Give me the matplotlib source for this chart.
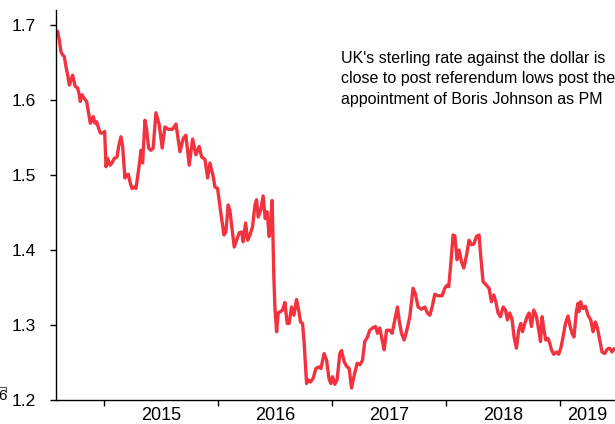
import matplotlib
matplotlib.use("Agg")
import matplotlib.pyplot as plt
from matplotlib.lines import Line2D

plt.rcParams["font.family"] = ["Liberation Sans", "DejaVu Sans"]

# GBP/USD, weekly closes (time as decimal years)
t_year = [
    2014.594, 2014.608, 2014.623, 2014.638, 2014.652, 2014.667, 2014.682, 2014.696, 2014.711, 2014.725,
    2014.739, 2014.748, 2014.769, 2014.783, 2014.792, 2014.807, 2014.827, 2014.848, 2014.866, 2014.880,
    2014.895, 2014.906, 2014.921, 2014.936, 2014.954, 2014.968, 2014.989, 2015.006, 2015.018, 2015.032,
    2015.053, 2015.070, 2015.090, 2015.114, 2015.129, 2015.149, 2015.164, 2015.184, 2015.199, 2015.213,
    2015.228, 2015.246, 2015.266, 2015.281, 2015.304, 2015.325, 2015.339, 2015.360, 2015.375, 2015.392,
    2015.412, 2015.432, 2015.456, 2015.485, 2015.511, 2015.535, 2015.564, 2015.603, 2015.632, 2015.667,
    2015.696, 2015.719, 2015.748, 2015.778, 2015.807, 2015.836, 2015.857, 2015.886, 2015.910, 2015.930,
    2015.959, 2015.974, 2015.997, 2016.026, 2016.053, 2016.070, 2016.090, 2016.105, 2016.143, 2016.164,
    2016.187, 2016.208, 2016.222, 2016.243, 2016.261, 2016.281, 2016.304, 2016.325, 2016.339, 2016.354,
    2016.375, 2016.397, 2016.415, 2016.432, 2016.450, 2016.465, 2016.476, 2016.491, 2016.500, 2016.515,
    2016.529, 2016.550, 2016.568, 2016.588, 2016.608, 2016.625, 2016.646, 2016.667, 2016.690, 2016.711,
    2016.725, 2016.743, 2016.757, 2016.778, 2016.792, 2016.813, 2016.836, 2016.860, 2016.886, 2016.904,
    2016.932, 2016.954, 2016.974, 2016.991, 2017.006, 2017.026, 2017.046, 2017.070, 2017.085, 2017.108,
    2017.129, 2017.152, 2017.173, 2017.196, 2017.222, 2017.246, 2017.269, 2017.289, 2017.313, 2017.333,
    2017.357, 2017.383, 2017.401, 2017.421, 2017.441, 2017.459, 2017.480, 2017.509, 2017.529, 2017.553,
    2017.576, 2017.590, 2017.611, 2017.634, 2017.655, 2017.684, 2017.713, 2017.734, 2017.757, 2017.787,
    2017.816, 2017.839, 2017.860, 2017.880, 2017.904, 2017.932, 2017.968, 2017.991, 2018.011, 2018.026,
    2018.044, 2018.064, 2018.079, 2018.099, 2018.117, 2018.138, 2018.158, 2018.182, 2018.204, 2018.225,
    2018.246, 2018.269, 2018.292, 2018.307, 2018.327, 2018.357, 2018.380, 2018.401, 2018.421, 2018.439,
    2018.459, 2018.480, 2018.503, 2018.524, 2018.541, 2018.561, 2018.582, 2018.599, 2018.620, 2018.640,
    2018.658, 2018.673, 2018.693, 2018.713, 2018.731, 2018.752, 2018.772, 2018.796, 2018.816, 2018.831,
    2018.845, 2018.862, 2018.877, 2018.897, 2018.912, 2018.927, 2018.947, 2018.971, 2018.991, 2019.009,
    2019.029, 2019.050, 2019.073, 2019.088, 2019.108, 2019.125, 2019.146, 2019.161, 2019.169, 2019.184,
    2019.204, 2019.225, 2019.248, 2019.272, 2019.292, 2019.313, 2019.331, 2019.351, 2019.371, 2019.395,
    2019.418, 2019.439, 2019.459, 2019.476,
]
gbp_usd = [
    1.691, 1.680, 1.664, 1.660, 1.658, 1.644, 1.633, 1.620, 1.627, 1.633,
    1.624, 1.618, 1.616, 1.607, 1.598, 1.607, 1.602, 1.598, 1.582, 1.569,
    1.573, 1.578, 1.569, 1.571, 1.562, 1.556, 1.556, 1.558, 1.511, 1.522,
    1.513, 1.516, 1.522, 1.524, 1.538, 1.551, 1.538, 1.496, 1.500, 1.501,
    1.491, 1.482, 1.484, 1.482, 1.507, 1.533, 1.516, 1.573, 1.560, 1.536,
    1.533, 1.536, 1.583, 1.567, 1.536, 1.564, 1.561, 1.561, 1.568, 1.531,
    1.549, 1.553, 1.513, 1.548, 1.527, 1.538, 1.524, 1.521, 1.496, 1.516,
    1.498, 1.484, 1.482, 1.449, 1.420, 1.424, 1.460, 1.453, 1.404, 1.413,
    1.423, 1.424, 1.411, 1.436, 1.413, 1.420, 1.431, 1.460, 1.467, 1.444,
    1.453, 1.472, 1.442, 1.451, 1.418, 1.440, 1.466, 1.364, 1.324, 1.291,
    1.316, 1.318, 1.320, 1.330, 1.302, 1.302, 1.324, 1.313, 1.334, 1.318,
    1.304, 1.302, 1.276, 1.222, 1.227, 1.224, 1.229, 1.242, 1.244, 1.242,
    1.262, 1.253, 1.229, 1.222, 1.231, 1.221, 1.227, 1.262, 1.266, 1.251,
    1.245, 1.242, 1.216, 1.233, 1.249, 1.247, 1.253, 1.278, 1.284, 1.293,
    1.296, 1.298, 1.289, 1.296, 1.280, 1.267, 1.293, 1.293, 1.289, 1.307,
    1.324, 1.307, 1.289, 1.280, 1.291, 1.311, 1.349, 1.341, 1.324, 1.321,
    1.324, 1.316, 1.313, 1.324, 1.341, 1.339, 1.339, 1.349, 1.353, 1.351,
    1.382, 1.420, 1.419, 1.387, 1.400, 1.384, 1.376, 1.393, 1.413, 1.407,
    1.408, 1.418, 1.420, 1.391, 1.358, 1.353, 1.349, 1.331, 1.340, 1.331,
    1.316, 1.311, 1.324, 1.320, 1.307, 1.316, 1.307, 1.284, 1.269, 1.293,
    1.302, 1.291, 1.302, 1.311, 1.316, 1.298, 1.320, 1.311, 1.293, 1.278,
    1.311, 1.293, 1.280, 1.282, 1.276, 1.267, 1.261, 1.264, 1.261, 1.269,
    1.284, 1.302, 1.312, 1.300, 1.289, 1.284, 1.318, 1.329, 1.318, 1.331,
    1.322, 1.325, 1.313, 1.307, 1.291, 1.304, 1.296, 1.280, 1.264, 1.262,
    1.268, 1.269, 1.264, 1.268,
]
years = [2015, 2016, 2017, 2018, 2019]
note = ("UK's sterling rate against the dollar is\n"
        "close to post referendum lows post the\n"
        "appointment of Boris Johnson as PM")

W, H = 615, 424
fig = plt.figure(figsize=(W / 100, H / 100), dpi=100)
ax = fig.add_axes([56 / W, 24 / H, 1 - 56 / W, 390 / H])

ax.plot(t_year, gbp_usd, color="#F2333F", lw=2.4, solid_joinstyle="round")

x_min, x_max = 2014.579, 2019.485
ax.set_xlim(x_min, x_max)
ax.set_ylim(1.2, 1.72)

for side in ["top", "right"]:
    ax.spines[side].set_visible(False)
for side in ["left", "bottom"]:
    ax.spines[side].set_linewidth(1.0)
    ax.spines[side].set_color("black")

# year boundaries get ticks, year labels sit in the middle of each span
ax.set_xticks(years)
ax.set_xticklabels([])
mids = [y + 0.5 for y in years[:-1]] + [(years[-1] + x_max) / 2]
ax.set_xticks(mids, minor=True)
ax.set_xticklabels([str(y) for y in years], minor=True)
ax.tick_params(axis="x", which="major", length=4.5, width=1.0, direction="out")
ax.tick_params(axis="x", which="minor", length=0, pad=5, labelsize=13)

ax.set_yticks([1.2, 1.3, 1.4, 1.5, 1.6, 1.7])
ax.set_yticklabels(["1.2", "1.3", "1.4", "1.5", "1.6", "1.7"])
ax.tick_params(axis="y", length=4.5, width=1.0, pad=10, labelsize=12.5)

fig.text(341 / W, 1 - 51 / H, note, ha="left", va="top", fontsize=11.5, linespacing=1.45)

# stray label fragment at the lower-left edge
fig.text(7 / W, 24 / H, "6", ha="right", va="baseline", fontsize=11)
fig.add_artist(Line2D([0, 6 / W, 6 / W], [1 - 387 / H, 1 - 387 / H, 1 - 392 / H],
                      transform=fig.transFigure, color="#555555", lw=0.8))

fig.savefig("out.png", dpi=100)
